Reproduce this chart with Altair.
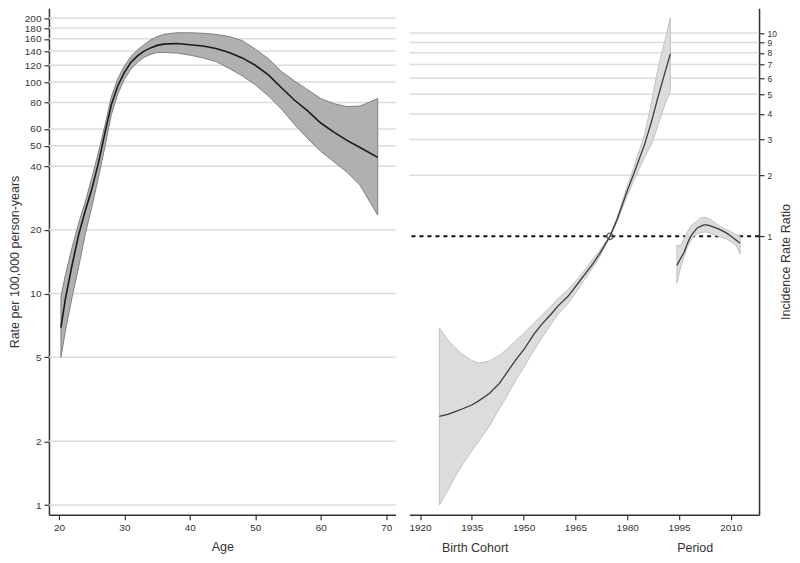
import altair as alt
import pandas as pd

FONT = "Liberation Sans"

# ---------------- Left panel: age-specific rates ----------------
age = [20.3, 21, 22, 23, 24, 25, 26, 27, 28, 29, 30, 31, 32, 33, 34, 35, 36,
       38, 40, 42, 44, 46, 48, 50, 52, 54, 56, 58, 60, 62, 64, 66, 68.7]
age_rate = [6.9, 9.5, 13.6, 18.9, 24.5, 31, 41, 57, 78, 96, 111, 124, 133, 140, 145, 149, 151,
            152, 150, 148, 144, 138, 130, 120, 108, 94, 82, 73, 64, 58, 53, 49, 44]
age_upper = [9.7, 12.3, 16.5, 21.5, 27, 35, 46, 62, 85, 104, 119, 132, 142, 150, 158, 164, 168,
             171, 171, 170, 168, 164, 157, 143, 129, 112, 101, 92, 83.5, 79, 76.5, 77, 83.5]
age_lower = [5.0, 6.7, 9.6, 13.3, 19, 25.5, 35, 49, 70, 88, 103, 115, 124, 131, 135, 138, 138,
             137, 134, 130, 125, 116, 107, 97, 86, 74.5, 63, 54, 47, 42, 37.5, 32.5, 23.5]

rate_ticks = [1, 2, 5, 10, 20, 40, 50, 60, 80, 100, 120, 140, 160, 180, 200]
age_ticks = [20, 30, 40, 50, 60, 70]

# ---------------- Right panel: cohort and period rate ratios ----------------
cohort_year = [1925.6, 1928, 1930, 1932, 1935, 1937, 1940, 1943, 1945, 1948, 1950, 1953, 1955,
               1958, 1960, 1963, 1965, 1968, 1970, 1972, 1975, 1977, 1980, 1982, 1985, 1987,
               1989, 1991, 1992.5]
cohort_irr = [0.130, 0.133, 0.137, 0.141, 0.148, 0.155, 0.168, 0.189, 0.212, 0.25, 0.276, 0.33,
              0.365, 0.415, 0.455, 0.51, 0.565, 0.66, 0.73, 0.82, 1.0, 1.2, 1.67, 2.05, 2.82,
              3.65, 4.9, 6.45, 7.9]
cohort_upper = [0.354, 0.31, 0.285, 0.265, 0.245, 0.238, 0.243, 0.26, 0.277, 0.31, 0.333, 0.375,
                0.405, 0.455, 0.495, 0.55, 0.6, 0.69, 0.77, 0.85, 1.0, 1.23, 1.76, 2.2, 3.15,
                4.54, 6.8, 9.3, 11.9]
cohort_lower = [0.0477, 0.056, 0.065, 0.074, 0.088, 0.098, 0.116, 0.142, 0.162, 0.2, 0.226, 0.275,
                0.31, 0.37, 0.415, 0.47, 0.525, 0.625, 0.7, 0.79, 1.0, 1.17, 1.58, 1.9, 2.45,
                2.82, 3.55, 4.5, 5.17]

period_year = [1994.4, 1995.5, 1996.5, 1997.4, 1998.4, 1999.3, 2000.3, 2001.2, 2002.2, 2003.1,
               2004.1, 2005.1, 2006.9, 2008.7, 2009.8, 2011.5, 2012.7]
period_irr = [0.72, 0.78, 0.835, 0.92, 1.0, 1.05, 1.10, 1.12, 1.14, 1.14, 1.125, 1.11, 1.08,
              1.04, 1.01, 0.96, 0.925]
period_upper = [0.9, 0.9, 0.97, 1.05, 1.12, 1.16, 1.19, 1.23, 1.24, 1.23, 1.21, 1.18, 1.12,
                1.08, 1.06, 1.02, 1.0]
period_lower = [0.588, 0.707, 0.80, 0.88, 0.95, 1.0, 1.025, 1.04, 1.05, 1.05, 1.035, 1.02, 0.995,
                0.97, 0.95, 0.905, 0.82]

ref_year = [1975]
ref_irr = [1]

irr_ticks = [1, 2, 3, 4, 5, 6, 7, 8, 9, 10]
irr_grid = [2, 3, 4, 5, 6, 7, 8, 9, 10]
year_ticks = [1920, 1935, 1950, 1965, 1980, 1995, 2010]

W_L, W_R, H = 347, 350, 507

# ---------------- data frames ----------------
age_df = pd.DataFrame({"age": age, "rate": age_rate, "lo": age_lower, "hi": age_upper})
left_grid_df = pd.DataFrame({"g": rate_ticks})

cp_df = pd.concat([
    pd.DataFrame({"year": cohort_year, "irr": cohort_irr, "lo": cohort_lower,
                  "hi": cohort_upper, "series": "Birth Cohort"}),
    pd.DataFrame({"year": period_year, "irr": period_irr, "lo": period_lower,
                  "hi": period_upper, "series": "Period"}),
], ignore_index=True)
right_grid_df = pd.DataFrame({"g": irr_grid})
ref_df = pd.DataFrame({"year": ref_year, "irr": ref_irr})
one_df = pd.DataFrame({"g": [1]})

# ---------------- left panel ----------------
xL_scale = alt.Scale(domain=[18.47, 71.42], nice=False, zero=False)
yL_scale = alt.Scale(type="log", domain=[0.9, 223], nice=False)
xL_axis = alt.Axis(values=age_ticks, format="d", title="Age", grid=False, titlePadding=8,
                   labelOverlap=False)
yL_axis = alt.Axis(values=rate_ticks, format="d", title="Rate per 100,000 person-years",
                   grid=False, titlePadding=3, labelPadding=3, labelOverlap=False)


def xl(f):
    return alt.X(f, type="quantitative", scale=xL_scale, axis=xL_axis)


def yl(f):
    return alt.Y(f, type="quantitative", scale=yL_scale, axis=yL_axis)


left_grid = alt.Chart(left_grid_df).mark_rule(color="#dcdcdc", strokeWidth=1.5).encode(y=yl("g"))
left_band = alt.Chart(age_df).mark_area(color="#b0b0b0", stroke="#7f7f7f", strokeWidth=1,
                                        opacity=1).encode(x=xl("age"), y=yl("lo"), y2="hi")
left_line = alt.Chart(age_df).mark_line(color="#1a1a1a", strokeWidth=1.6).encode(
    x=xl("age"), y=yl("rate"))
left = alt.layer(left_grid, left_band, left_line).properties(width=W_L, height=H)

# ---------------- right panel ----------------
xR_scale = alt.Scale(domain=[1916.95, 2018.19], nice=False, zero=False)
yR_scale = alt.Scale(type="log", domain=[0.0427, 13.24], nice=False)
xR_axis = alt.Axis(values=year_ticks, format="d", title=None, grid=False, labelOverlap=False)
yR_axis = alt.Axis(values=irr_ticks, format="d", title="Incidence Rate Ratio", orient="right",
                   grid=False, titlePadding=3, labelPadding=3, labelOverlap=False,
                   labelFontSize=8.5, titleAngle=270, titleBaseline="top")


def xr(f):
    return alt.X(f, type="quantitative", scale=xR_scale, axis=xR_axis)


def yr(f):
    return alt.Y(f, type="quantitative", scale=yR_scale, axis=yR_axis)


right_grid = alt.Chart(right_grid_df).mark_rule(color="#dcdcdc", strokeWidth=1.5).encode(y=yr("g"))
right_one = alt.Chart(one_df).mark_rule(color="#111111", strokeWidth=2, strokeDash=[4, 4]).encode(
    y=yr("g"))
right_band = alt.Chart(cp_df).mark_area(color="#dcdcdc", stroke="#c2c2c2", strokeWidth=1,
                                        opacity=1).encode(
    x=xr("year"), y=yr("lo"), y2="hi", detail="series:N")
right_line = alt.Chart(cp_df).mark_line(color="#3a3a3a", strokeWidth=1.3).encode(
    x=xr("year"), y=yr("irr"), detail="series:N")
right_ref = alt.Chart(ref_df).mark_point(shape="circle", filled=False, color="#555555", size=40,
                                         strokeWidth=1.3, opacity=1).encode(
    x=xr("year"), y=yr("irr"))
lab_cohort = alt.Chart(ref_df).mark_text(text="Birth Cohort", font=FONT, fontSize=12.5,
                                         color="#333333", baseline="top", align="center").encode(
    x=alt.datum(1936), y=alt.value(H + 27))
lab_period = alt.Chart(ref_df).mark_text(text="Period", font=FONT, fontSize=12.5,
                                         color="#333333", baseline="top", align="center").encode(
    x=alt.datum(1999.7), y=alt.value(H + 27))

right = alt.layer(right_grid, right_one, right_band, right_line, right_ref,
                  lab_cohort, lab_period).properties(width=W_R, height=H)

chart = alt.hconcat(left, right, spacing=14, bounds="flush").properties(padding=0).configure_view(
    stroke=None
).configure_axis(
    labelFont=FONT, titleFont=FONT, labelFontSize=10, titleFontSize=12.5,
    labelColor="#333333", titleColor="#333333", titleFontWeight="normal",
    domainColor="#333333", tickColor="#333333", domainWidth=1.5, tickWidth=1.2,
    tickSize=5, labelPadding=3
)

chart.save("out.html", embed_options={"renderer": "svg", "actions": False})
